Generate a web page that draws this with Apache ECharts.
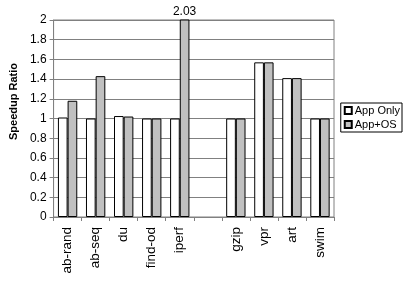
<!DOCTYPE html>
<html><head><meta charset="utf-8">
<script src="https://cdn.jsdelivr.net/npm/echarts@6/dist/echarts.min.js"></script>
<style>html,body{margin:0;padding:0;background:#fff}#c{width:408px;height:281px}</style>
</head><body><div id="c"></div>
<script>
var categories = ['ab-rand','ab-seq','du','find-od','iperf','','gzip','vpr','art','swim'];
var appOnly = [1.01, 1.0, 1.025, 1.0, 1.0, null, 1.0, 1.57, 1.41, 1.0];
var appOS   = [1.18, 1.43, 1.02, 1.0, 2.03, null, 1.0, 1.57, 1.41, 1.0];
var yTicks = [0, 0.2, 0.4, 0.6, 0.8, 1, 1.2, 1.4, 1.6, 1.8, 2];
var seriesNames = ['App Only', 'App+OS'];

var font = 'Liberation Sans, Arial, sans-serif';
var chart = echarts.init(document.getElementById('c'), null, {renderer:'canvas'});
chart.setOption({
  animation: false,
  backgroundColor: '#fff',
  grid: {left: 45, right: 74, top: 20, bottom: 64, show: true, borderColor: '#808080', borderWidth: 1},
  legend: {
    orient: 'vertical', right: 6, top: 103,
    data: seriesNames,
    itemWidth: 7, itemHeight: 7, itemGap: 3,
    padding: [2, 2, 2, 3],
    borderColor: '#000', borderWidth: 1,
    textStyle: {fontFamily: font, fontSize: 11, color: '#000', padding: [0,0,0,-2]},
    icon: 'rect'
  },
  xAxis: {
    type: 'category', data: categories,
    axisLine: {lineStyle: {color: '#808080'}},
    axisTick: {show: true, alignWithLabel: false, length: 4, lineStyle: {color: '#808080'}},
    axisLabel: {rotate: 90, fontFamily: font, fontSize: 13.5, color: '#000', interval: 0, margin: 10}
  },
  yAxis: {
    type: 'value', min: 0, max: 2, interval: 0.2,
    name: 'Speedup Ratio', nameLocation: 'middle', nameGap: 29,
    nameTextStyle: {fontFamily: font, fontSize: 11, fontWeight: 'bold', color: '#000', padding: [0, 0, 0, 34]},
    axisLine: {show: true, lineStyle: {color: '#808080'}},
    axisTick: {show: true, length: 4, lineStyle: {color: '#808080'}},
    axisLabel: {fontFamily: font, fontSize: 12, color: '#000', margin: 7,
      formatter: function(v){ return String(Math.round(v*10)/10); }},
    splitLine: {show: true, lineStyle: {color: '#808080', width: 1}}
  },
  series: [
    {name: seriesNames[0], type: 'bar', data: appOnly, barGap: '0%', barCategoryGap: '31%',
     itemStyle: {color: '#fff', borderColor: '#000', borderWidth: 1}},
    {name: seriesNames[1], type: 'bar', data: appOS.map(function(v, i){
        if (i === 4) return {value: v, label: {show: true, position: 'top', distance: 2,
          formatter: function(p){ return p.value.toFixed(2); },
          fontFamily: font, fontSize: 12, color: '#000'}};
        return v; }),
     clip: true,
     itemStyle: {color: '#c0c0c0', borderColor: '#000', borderWidth: 1}}
  ]
});
</script></body></html>
